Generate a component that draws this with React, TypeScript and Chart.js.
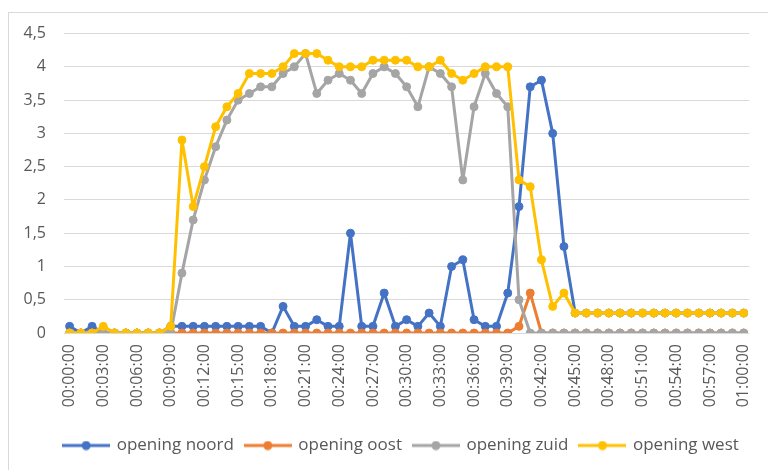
import React, { useEffect, useRef } from "react";
import { Chart, registerables } from "chart.js";

Chart.register(...registerables);

const categories = [
  "00:00:00","00:01:00","00:02:00","00:03:00","00:04:00","00:05:00","00:06:00","00:07:00","00:08:00","00:09:00",
  "00:10:00","00:11:00","00:12:00","00:13:00","00:14:00","00:15:00","00:16:00","00:17:00","00:18:00","00:19:00",
  "00:20:00","00:21:00","00:22:00","00:23:00","00:24:00","00:25:00","00:26:00","00:27:00","00:28:00","00:29:00",
  "00:30:00","00:31:00","00:32:00","00:33:00","00:34:00","00:35:00","00:36:00","00:37:00","00:38:00","00:39:00",
  "00:40:00","00:41:00","00:42:00","00:43:00","00:44:00","00:45:00","00:46:00","00:47:00","00:48:00","00:49:00",
  "00:50:00","00:51:00","00:52:00","00:53:00","00:54:00","00:55:00","00:56:00","00:57:00","00:58:00","00:59:00",
  "01:00:00",
];

const tickLabels = [
  "00:00:00","00:03:00","00:06:00","00:09:00","00:12:00","00:15:00","00:18:00","00:21:00","00:24:00","00:27:00",
  "00:30:00","00:33:00","00:36:00","00:39:00","00:42:00","00:45:00","00:48:00","00:51:00","00:54:00","00:57:00",
  "01:00:00",
];

const noord = [
  0.1, 0, 0.1, 0, 0, 0, 0, 0, 0, 0.1,
  0.1, 0.1, 0.1, 0.1, 0.1, 0.1, 0.1, 0.1, 0, 0.4,
  0.1, 0.1, 0.2, 0.1, 0.1, 1.5, 0.1, 0.1, 0.6, 0.1,
  0.2, 0.1, 0.3, 0.1, 1.0, 1.1, 0.2, 0.1, 0.1, 0.6,
  1.9, 3.7, 3.8, 3.0, 1.3, 0.3, 0.3, 0.3, 0.3, 0.3,
  0.3, 0.3, 0.3, 0.3, 0.3, 0.3, 0.3, 0.3, 0.3, 0.3,
  0.3,
];

const oost = [
  0, 0, 0, 0, 0, 0, 0, 0, 0, 0,
  0, 0, 0, 0, 0, 0, 0, 0, 0, 0,
  0, 0, 0, 0, 0, 0, 0, 0, 0, 0,
  0, 0, 0, 0, 0, 0, 0, 0, 0, 0,
  0.1, 0.6, 0, 0, 0, 0, 0, 0, 0, 0,
  0, 0, 0, 0, 0, 0, 0, 0, 0, 0,
  0,
];

const zuid = [
  0, 0, 0, 0, 0, 0, 0, 0, 0, 0,
  0.9, 1.7, 2.3, 2.8, 3.2, 3.5, 3.6, 3.7, 3.7, 3.9,
  4.0, 4.2, 3.6, 3.8, 3.9, 3.8, 3.6, 3.9, 4.0, 3.9,
  3.7, 3.4, 4.0, 3.9, 3.7, 2.3, 3.4, 3.9, 3.6, 3.4,
  0.5, 0, 0, 0, 0, 0, 0, 0, 0, 0,
  0, 0, 0, 0, 0, 0, 0, 0, 0, 0,
  0,
];

const west = [
  0, 0, 0, 0.1, 0, 0, 0, 0, 0, 0.1,
  2.9, 1.9, 2.5, 3.1, 3.4, 3.6, 3.9, 3.9, 3.9, 4.0,
  4.2, 4.2, 4.2, 4.1, 4.0, 4.0, 4.0, 4.1, 4.1, 4.1,
  4.1, 4.0, 4.0, 4.1, 3.9, 3.8, 3.9, 4.0, 4.0, 4.0,
  2.3, 2.2, 1.1, 0.4, 0.6, 0.3, 0.3, 0.3, 0.3, 0.3,
  0.3, 0.3, 0.3, 0.3, 0.3, 0.3, 0.3, 0.3, 0.3, 0.3,
  0.3,
];

const seriesNames = ["opening noord", "opening oost", "opening zuid", "opening west"];
const seriesColors = ["#4472C4", "#ED7D31", "#A5A5A5", "#FFC000"];

const FONT = "'Open Sans', 'DejaVu Sans', sans-serif";
const TEXT = "#595959";

function legendMarker(color: string): HTMLCanvasElement {
  const c = document.createElement("canvas");
  c.width = 48;
  c.height = 10;
  const ctx = c.getContext("2d")!;
  ctx.strokeStyle = color;
  ctx.lineWidth = 3;
  ctx.beginPath();
  ctx.moveTo(0, 5);
  ctx.lineTo(48, 5);
  ctx.stroke();
  ctx.fillStyle = color;
  ctx.beginPath();
  ctx.arc(24, 5, 4.5, 0, Math.PI * 2);
  ctx.fill();
  return c;
}

const shiftLegend = {
  id: "shiftLegend",
  afterLayout(chart: any) {
    const l = chart.legend;
    if (l) {
      l.left += 18;
      l.right += 18;
    }
  },
};

export default function App() {
  const ref = useRef<HTMLCanvasElement | null>(null);

  useEffect(() => {
    document.body.style.overflow = "hidden";
    document.documentElement.style.overflow = "hidden";
    const canvas = ref.current;
    if (!canvas) return;
    const values = [noord, oost, zuid, west];
    const markers = seriesColors.map(legendMarker);
    const chart = new Chart(canvas, {
      type: "line",
      data: {
        labels: categories,
        datasets: values.map((v, i) => ({
          label: seriesNames[i],
          data: v,
          borderColor: seriesColors[i],
          backgroundColor: seriesColors[i],
          pointBackgroundColor: seriesColors[i],
          pointBorderColor: seriesColors[i],
          pointStyle: "circle",
          borderWidth: 3,
          borderJoinStyle: "round",
          borderCapStyle: "round",
          pointRadius: 4,
          pointBorderWidth: 1,
          tension: 0,
          order: 3 - i,
        })) as any,
      },
      options: {
        responsive: false,
        animation: false,
        layout: { padding: { top: 10, right: 16, bottom: 6, left: 0 } },
        scales: {
          x: {
            type: "category",
            offset: true,
            grid: { display: false, drawTicks: false },
            border: { display: false },
            ticks: {
              autoSkip: false,
              maxRotation: 90,
              minRotation: 90,
              padding: 11,
              color: TEXT,
              font: { family: FONT, size: 16 },
              callback: (_v: any, i: number) =>
                tickLabels.includes(categories[i]) ? categories[i] : null,
            },
            afterFit: (s: any) => {
              s.height = 92;
            },
          },
          y: {
            min: 0,
            max: 4.5,
            grid: { color: "#D9D9D9", lineWidth: 1, drawTicks: false },
            border: { display: false },
            ticks: {
              stepSize: 0.5,
              padding: 18,
              color: TEXT,
              font: { family: FONT, size: 16 },
              callback: (v: any) => String(v).replace(".", ","),
            },
            afterFit: (s: any) => {
              s.width = 55;
            },
          },
        },
        plugins: {
          tooltip: { enabled: false },
          legend: {
            position: "bottom",
            labels: {
              usePointStyle: true,
              pointStyleWidth: 44,
              padding: 12,
              color: TEXT,
              font: { family: FONT, size: 17 },
              sort: (a: any, b: any) => a.datasetIndex - b.datasetIndex,
              generateLabels: (ch: any) =>
                ch.data.datasets.map((d: any, i: number) => ({
                  text: d.label,
                  fillStyle: seriesColors[i],
                  strokeStyle: seriesColors[i],
                  fontColor: TEXT,
                  lineWidth: 0,
                  pointStyle: markers[i],
                  hidden: false,
                  datasetIndex: i,
                })),
            },
          },
        },
      } as any,
      plugins: [shiftLegend],
    });
    return () => chart.destroy();
  }, []);

  return (
    <div
      style={{
        width: 766,
        height: 457,
        marginTop: 4,
        borderLeft: "1px solid #D9D9D9",
        borderTop: "1px solid #D9D9D9",
      }}
    >
      <canvas
        ref={ref}
        width={765}
        height={464}
        style={{ display: "block", marginTop: -7 }}
      />
    </div>
  );
}
